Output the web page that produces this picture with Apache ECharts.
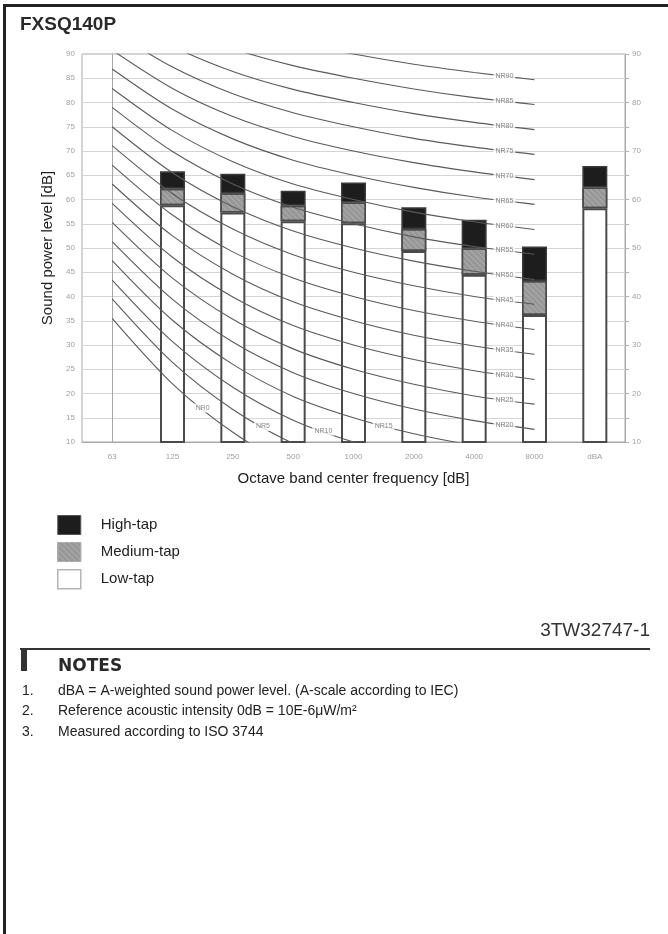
<!DOCTYPE html>
<html>
<head>
<meta charset="utf-8">
<script src="https://cdn.jsdelivr.net/npm/echarts@6/dist/echarts.min.js"></script>
<style>
html,body{margin:0;padding:0;background:#fff;}
#chart{width:668px;height:934px;}
</style>
</head>
<body>
<div id="chart"></div>
<script>
// Categories (octave band centre frequencies)
const categories = ['63', '125', '250', '500', '1000', '2000', '4000', '8000', 'dBA'];

// Sound power levels [dB]
const lowTap    = [null, 58.8, 57.3, 55.5, 55.1, 49.4, 44.5, 36.2, 58.2];
const mediumTap = [null, 62.2, 61.3, 58.7, 59.4, 53.9, 49.9, 43.2, 62.5];
const highTap   = [null, 65.8, 65.3, 61.8, 63.5, 58.4, 55.8, 50.3, 66.9];

// Y tick labels
const leftTicks = [10, 15, 20, 25, 30, 35, 40, 45, 50, 55, 60, 65, 70, 75, 80, 85, 90];
const rightTicks = [10, 20, 30, 40, 50, 60, 70, 80, 90];

// NR curves (63 ... 8000 Hz)
const nr0  = [35.5, 22.0, 12.0, 4.8, 0, -3.5, -6.1, -8.0];
const nr5  = [39.5, 26.4, 16.7, 9.7, 5, 1.6, -1.0, -2.9];
const nr10 = [43.4, 30.7, 21.3, 14.5, 10, 6.7, 4.2, 2.3];
const nr15 = [47.4, 35.1, 26.0, 19.4, 15, 11.7, 9.3, 7.5];
const nr20 = [51.3, 39.4, 30.6, 24.3, 20, 16.8, 14.4, 12.6];
const nr25 = [55.3, 43.8, 35.3, 29.2, 25, 21.9, 19.5, 17.8];
const nr30 = [59.2, 48.1, 39.9, 34.0, 30, 27.0, 24.7, 22.9];
const nr35 = [63.2, 52.5, 44.6, 38.9, 35, 32.0, 29.8, 28.1];
const nr40 = [67.1, 56.8, 49.2, 43.8, 40, 37.1, 34.9, 33.2];
const nr45 = [71.1, 61.2, 53.9, 48.6, 45, 42.2, 40.0, 38.4];
const nr50 = [75.0, 65.5, 58.5, 53.5, 50, 47.3, 45.2, 43.5];
const nr55 = [79.0, 69.9, 63.2, 58.4, 55, 52.3, 50.3, 48.7];
const nr60 = [82.9, 74.2, 67.8, 63.2, 60, 57.4, 55.4, 53.8];
const nr65 = [86.9, 78.6, 72.5, 68.1, 65, 62.5, 60.5, 59.0];
const nr70 = [90.8, 82.9, 77.1, 73.0, 70, 67.6, 65.7, 64.1];
const nr75 = [94.8, 87.3, 81.8, 77.9, 75, 72.6, 70.8, 69.3];
const nr80 = [98.7, 91.6, 86.4, 82.7, 80, 77.7, 75.9, 74.4];
const nr85 = [102.7, 96.0, 91.1, 87.6, 85, 82.8, 81.0, 79.6];
const nr90 = [106.6, 100.3, 95.7, 92.5, 90, 87.9, 86.2, 84.7];

const nrNames = ['NR0','NR5','NR10','NR15','NR20','NR25','NR30','NR35','NR40','NR45',
                 'NR50','NR55','NR60','NR65','NR70','NR75','NR80','NR85','NR90'];
const nrCurves = [nr0, nr5, nr10, nr15, nr20, nr25, nr30, nr35, nr40, nr45,
                  nr50, nr55, nr60, nr65, nr70, nr75, nr80, nr85, nr90];
// segment (between band i and i+1) on which each curve's label sits
const nrLabelSegment = [1, 2, 3, 4, 6, 6, 6, 6, 6, 6, 6, 6, 6, 6, 6, 6, 6, 6, 6];

const chart = echarts.init(document.getElementById('chart'), null, {renderer: 'canvas'});

const r1 = v => v == null ? null : Math.round(v * 10) / 10;
const lowSeg = lowTap.map(r1);
const medSeg = mediumTap.map((v, i) => v == null ? null : r1(v - lowTap[i]));
const highSeg = highTap.map((v, i) => v == null ? null : r1(v - mediumTap[i]));

const FONT = 'Liberation Sans, Arial, sans-serif';

const series = [];
series.push({
  name: 'Low-tap', type: 'bar', stack: 'tap', data: lowSeg, barWidth: 25, z: 2,
  itemStyle: {color: '#ffffff', borderColor: '#4a4a4a', borderWidth: 2}
});
series.push({
  name: 'Medium-tap', type: 'bar', stack: 'tap', data: medSeg, barWidth: 25, z: 2,
  itemStyle: {color: '#979797', borderColor: '#4a4a4a', borderWidth: 1.5,
    decal: {symbol: 'rect', symbolSize: 1, dashArrayX: [1, 0], dashArrayY: [1, 3],
            rotation: Math.PI / 4, color: 'rgba(255,255,255,0.2)'}}
});
series.push({
  name: 'High-tap', type: 'bar', stack: 'tap', data: highSeg, barWidth: 25, z: 2,
  itemStyle: {color: '#1d1d1d', borderColor: '#3a3a3a', borderWidth: 1.5}
});

nrCurves.forEach((c, k) => {
  series.push({
    name: nrNames[k], type: 'line', xAxisIndex: 1, yAxisIndex: 0,
    data: c.map((v, i) => [i, v]), smooth: 0.3, symbol: 'none', clip: true, z: 3,
    lineStyle: {color: '#5a5a5a', width: 1.1}, silent: true
  });
});

const labelData = nrCurves.map((c, k) => {
  const s = nrLabelSegment[k];
  return {name: nrNames[k], value: [s + 0.5, (c[s] + c[s + 1]) / 2]};
});
series.push({
  name: 'labels', type: 'scatter', xAxisIndex: 1, yAxisIndex: 0, data: labelData,
  symbolSize: 0, z: 5, silent: true,
  label: {show: true, position: 'inside', formatter: p => p.name, fontSize: 7,
    fontFamily: FONT, color: '#6a6a6a', backgroundColor: '#ffffff', padding: [1, 2]}
});

const gText = (text, x, y, opts) => Object.assign({
  type: 'text', left: x, top: y,
  style: Object.assign({text: text, fill: '#222', font: '14px ' + FONT}, opts || {})
});

chart.setOption({
  animation: false,
  backgroundColor: '#ffffff',
  grid: {left: 82, right: 43, top: 54, bottom: 492, show: true, borderColor: '#a8a8a8', borderWidth: 1},
  legend: {
    orient: 'vertical', left: 52, top: 510, itemWidth: 23, itemHeight: 19, itemGap: 7,
    selectedMode: false, icon: 'rect',
    textStyle: {fontSize: 15, fontFamily: FONT, color: '#222', padding: [0, 0, 0, 15]},
    data: [
      {name: 'High-tap', itemStyle: {color: '#1d1d1d', borderColor: '#555', borderWidth: 1}},
      {name: 'Medium-tap', itemStyle: {borderColor: '#aaa', borderWidth: 1}},
      {name: 'Low-tap', itemStyle: {color: '#ffffff', borderColor: '#b5b5b5', borderWidth: 1.5}}
    ]
  },
  xAxis: [
    {type: 'category', data: categories, boundaryGap: true,
     axisLine: {show: true, lineStyle: {color: '#a8a8a8'}}, axisTick: {show: false},
     axisLabel: {fontSize: 8, color: '#a0a0a0', margin: 11, fontFamily: FONT},
     name: 'Octave band center frequency [dB]', nameLocation: 'middle', nameGap: 29,
     nameTextStyle: {fontSize: 15, color: '#222', fontFamily: FONT}},
    {type: 'value', min: -0.5, max: 8.5, show: false}
  ],
  yAxis: [
    {type: 'value', min: 10, max: 90, interval: 5, position: 'left',
     axisLine: {show: true, lineStyle: {color: '#a8a8a8'}}, axisTick: {show: false},
     axisLabel: {fontSize: 8, color: '#a0a0a0', margin: 7, fontFamily: FONT,
                 formatter: v => leftTicks.indexOf(v) >= 0 ? String(v) : ''},
     splitLine: {show: true, lineStyle: {color: '#d4d4d4', width: 1}},
     name: 'Sound power level [dB]', nameLocation: 'middle', nameGap: 26, nameRotate: 90,
     nameTextStyle: {fontSize: 15, color: '#222', fontFamily: FONT}},
    {type: 'value', min: 10, max: 90, interval: 5, position: 'right',
     axisLine: {show: true, lineStyle: {color: '#a8a8a8'}},
     axisTick: {show: true, length: 4, lineStyle: {color: '#b0b0b0'}},
     axisLabel: {fontSize: 8, color: '#a0a0a0', margin: 7, fontFamily: FONT,
                 formatter: v => rightTicks.indexOf(v) >= 0 ? String(v) : ''},
     splitLine: {show: false}}
  ],
  series: series,
  graphic: [
    {type: 'rect', shape: {x: 3, y: 4, width: 3, height: 930}, style: {fill: '#222'}},
    {type: 'rect', shape: {x: 3, y: 4, width: 665, height: 3}, style: {fill: '#222'}},
    gText('FXSQ140P', 20, 15, {font: 'bold 19px ' + FONT, fill: '#2a2a2a'}),
    {type: 'text', right: 18, top: 621, style: {text: '3TW32747-1', fill: '#333', font: '19px ' + FONT}},
    {type: 'rect', shape: {x: 20, y: 648, width: 630, height: 2}, style: {fill: '#333'}},
    {type: 'rect', shape: {x: 21, y: 649, width: 6, height: 22}, style: {fill: '#333'}},
    gText('NOTES', 58, 658, {font: 'bold 17px DejaVu Sans, sans-serif', fill: '#2a2a2a'}),
    gText('1.', 22, 684), gText('dBA = A-weighted sound power level. (A-scale according to IEC)', 58, 684),
    gText('2.', 22, 704), gText('Reference acoustic intensity 0dB = 10E-6\u03bcW/m\u00b2', 58, 704),
    gText('3.', 22, 725), gText('Measured according to ISO 3744', 58, 725)
  ]
});
</script>
</body>
</html>
